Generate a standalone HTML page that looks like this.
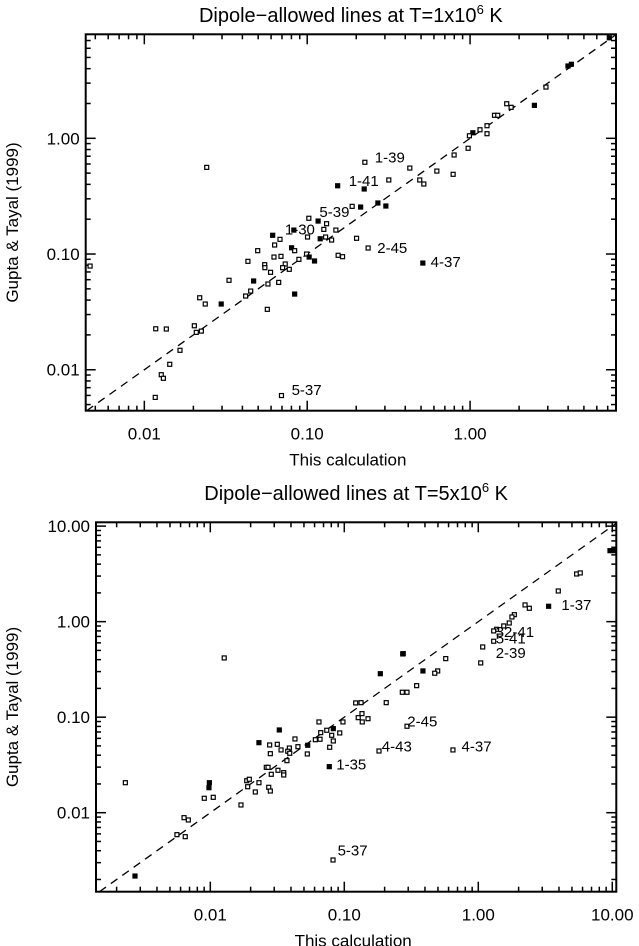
<!DOCTYPE html>
<html><head><meta charset="utf-8">
<style>
html,body{margin:0;padding:0;background:#fff;}
svg{display:block;font-family:"Liberation Sans",sans-serif;}
</style></head>
<body>
<svg id="fig" width="639" height="946" viewBox="0 0 639 946"></svg>
<script>
// ---- Panel 1 data (T=1e6 K), log10 values ----
const calcLog1 = [-1.617,-0.646,-0.813,-0.650,-0.724,-0.672,-0.990,-0.933,-0.881,-1.082,-0.824,-0.898,-0.998,-0.920,-0.887,-0.850,-0.697,-0.626,-1.212,-1.167,-1.200,-1.304,-1.096,-1.077,-1.204,-1.161,-1.004,-0.988,-1.051,-0.955,-0.810,-0.783,-1.364,-1.261,-1.260,-1.135,-1.151,-1.110,-1.225,-1.480,-1.329,-1.175,-1.241,-1.347,-1.378,-1.077,-1.660,-1.626,-1.528,-1.245,-1.693,-1.681,-1.650,-1.930,-1.865,-1.933,-1.896,-1.883,-1.844,-1.781,0.855,0.622,0.601,0.466,0.395,0.225,0.252,0.150,0.170,0.104,0.061,0.017,-0.004,0.104,-0.012,-0.098,-0.104,-1.158,-2.333,-0.290,-0.370,-0.499,-0.517,-0.566,-0.284,-0.309,-0.204];
const guptaLog1 = [-0.251,-0.207,-0.410,-0.438,-0.588,-0.594,-0.691,-0.715,-0.738,-0.793,-0.793,-0.787,-0.853,-0.868,-0.853,-0.879,-0.864,-0.948,-0.838,-0.873,-0.922,-0.971,-0.946,-0.971,-1.026,-1.020,-1.000,-1.026,-1.046,-1.060,-1.011,-1.023,-1.063,-1.092,-1.118,-1.086,-1.118,-1.132,-1.158,-1.227,-1.233,-1.245,-1.259,-1.320,-1.363,-1.346,-1.378,-1.432,-1.432,-1.478,-1.620,-1.677,-1.666,-1.646,-1.648,-2.239,-2.043,-2.074,-1.953,-1.832,0.869,0.640,0.625,0.443,0.285,0.299,0.268,0.199,0.199,0.109,0.074,0.048,0.022,0.040,-0.086,-0.144,-0.311,-2.223,-1.104,-1.078,-0.257,-0.360,-0.585,-0.559,-0.395,-0.360,-0.283];
const filled1 = [2,3,5,7,9,13,18,22,27,29,40,45,48,60,61,62,64,71,79,82,83];
const labels1 = ["1-39","1-41","5-39","1-30","2-45","4-37","5-37"];
const labelCalc1 = [-0.585,-0.745,-0.925,-1.137,-0.570,-0.242,-1.096];
const labelGupta1 = [-0.210,-0.410,-0.680,-0.830,-0.990,-1.110,-2.220];

// ---- Panel 2 data (T=5e6 K), log10 values ----
const calcLog2 = [-0.564,-0.731,-0.567,-0.532,-0.687,-0.915,-0.875,-0.868,-0.896,-0.823,-0.866,-1.010,-1.189,-1.082,-1.131,-1.176,-1.034,-1.094,-1.485,-1.181,-1.216,-1.082,-1.368,-1.637,-1.557,-1.500,-1.273,-1.346,-1.410,-1.109,-1.472,-1.422,-1.407,-1.552,-1.276,-1.428,-1.112,-0.741,-0.532,-1.582,-1.569,-1.495,-1.545,-1.452,-1.452,-1.728,-1.709,-1.637,-1.721,-1.564,-1.552,-1.664,-2.007,-2.010,-2.045,-1.978,-1.771,-2.634,-2.196,-2.164,-2.249,-2.187,-2.562,1.007,0.983,0.734,0.761,0.597,0.525,0.349,0.381,0.269,0.251,0.231,0.190,0.137,0.115,0.115,0.033,0.018,-0.560,-0.243,-0.303,-0.325,-0.413,-0.460,-0.189,-1.084,-1.896];
const guptaLog2 = [-0.338,-0.545,-0.739,-0.739,-0.848,-0.851,-0.848,-0.963,-1.005,-1.016,-1.050,-1.050,-1.050,-1.120,-1.137,-1.162,-1.165,-1.190,-1.134,-1.231,-1.236,-1.249,-1.228,-1.267,-1.291,-1.284,-1.294,-1.309,-1.323,-1.315,-1.343,-1.357,-1.378,-1.382,-1.385,-1.455,-1.518,-1.354,-1.095,-1.525,-1.525,-1.556,-1.598,-1.581,-1.605,-1.665,-1.650,-1.686,-1.728,-1.734,-1.773,-1.783,-1.686,-1.738,-1.849,-1.839,-1.919,-1.686,-2.052,-2.076,-2.230,-2.251,-2.663,0.743,0.743,0.499,0.510,0.321,0.161,0.175,0.140,0.073,0.049,-0.014,-0.045,-0.080,-0.097,-0.205,-0.265,-0.432,-0.335,-0.387,-0.516,-0.540,-0.516,-0.670,-1.343,-2.495,-0.380];
const filled2 = [0,1,13,18,23,26,36,52,53,62,63,64,68,80,84];
const labels2 = ["1-37","32-41","5-41","2-39","2-45","4-43","4-37","1-35","5-37"];
const labelCalc2 = [0.620,0.130,0.130,0.130,-0.530,-0.720,-0.125,-1.060,-1.050];
const labelGupta2 = [0.120,-0.160,-0.230,-0.380,-1.100,-1.360,-1.360,-1.550,-2.450];

const NS = "http://www.w3.org/2000/svg";
const svg = document.getElementById('fig');
function mk(tag, attrs, parent){
  const e = document.createElementNS(NS, tag);
  for (const k in attrs) e.setAttribute(k, attrs[k]);
  (parent||svg).appendChild(e);
  return e;
}

function panel(cfg){
  const g = mk('g', {});
  
  
  const X = v => cfg.x0 + (v - cfg.lx0) / (cfg.lx1 - cfg.lx0) * (cfg.x1 - cfg.x0);
  const Y = v => cfg.y1 - (v - cfg.ly0) / (cfg.ly1 - cfg.ly0) * (cfg.y1 - cfg.y0);

  const t = mk('text', {x:(cfg.x0+cfg.x1)/2, y:cfg.titleY, 'text-anchor':'middle', 'font-size':20, fill:'#000'}, g);
  
  
  t.appendChild(document.createTextNode(cfg.title[0]));
  const sup = mk('tspan', {dy:-8, 'font-size':13}, t);
  sup.textContent = '6';
  const rest = mk('tspan', {dy:8}, t);
  rest.textContent = ' K';

  const lo = Math.max(cfg.lx0, cfg.ly0), hi = Math.min(cfg.lx1, cfg.ly1);
  const dl = mk('line', {x1:X(lo), y1:Y(lo), x2:X(hi), y2:Y(hi), stroke:'#000', 'stroke-width':1.3, 'stroke-dasharray':'8,6'}, g);
  
  

  const fr = mk('rect', {x:cfg.x0, y:cfg.y0, width:cfg.x1-cfg.x0, height:cfg.y1-cfg.y0, fill:'none', stroke:'#000', 'stroke-width':2}, g);
  
  

  for (let d = Math.floor(cfg.lx0)-1; d <= Math.ceil(cfg.lx1); d++){
    for (let m = 1; m <= 9; m++){
      const v = d + Math.log10(m);
      if (v < cfg.lx0 || v > cfg.lx1) continue;
      const len = m === 1 ? 10 : 5;
      const px = X(v);
      mk('line', {x1:px, y1:cfg.y1, x2:px, y2:cfg.y1-len, stroke:'#000', 'stroke-width':1.5}, g);
      mk('line', {x1:px, y1:cfg.y0, x2:px, y2:cfg.y0+len, stroke:'#000', 'stroke-width':1.5}, g);
    }
  }
  for (let d = Math.floor(cfg.ly0)-1; d <= Math.ceil(cfg.ly1); d++){
    for (let m = 1; m <= 9; m++){
      const v = d + Math.log10(m);
      if (v < cfg.ly0 || v > cfg.ly1) continue;
      const len = m === 1 ? 10 : 5;
      const py = Y(v);
      mk('line', {x1:cfg.x0, y1:py, x2:cfg.x0+len, y2:py, stroke:'#000', 'stroke-width':1.5}, g);
      mk('line', {x1:cfg.x1, y1:py, x2:cfg.x1-len, y2:py, stroke:'#000', 'stroke-width':1.5}, g);
    }
  }
  cfg.xTicks.forEach((lab, i) => {
    const e = mk('text', {x:X(cfg.xTickVals[i]), y:cfg.y1+29, 'text-anchor':'middle', 'font-size':17}, g);
    
    
    e.textContent = lab;
  });
  cfg.yTicks.forEach((lab, i) => {
    const e = mk('text', {x:cfg.x0-6, y:Y(cfg.yTickVals[i])+6, 'text-anchor':'end', 'font-size':17}, g);
    
    
    e.textContent = lab;
  });
  const xt = mk('text', {x:(cfg.x0+cfg.x1)/2 - 3, y:cfg.y1+55, 'text-anchor':'middle', 'font-size':17}, g);
  
  
  xt.textContent = 'This calculation';
  const yc = (cfg.y0+cfg.y1)/2;
  const yt = mk('text', {x:0, y:0, 'text-anchor':'middle', 'font-size':17, transform:'translate(18,'+yc+') rotate(-90)'}, g);
  
  
  yt.textContent = 'Gupta & Tayal (1999)';

  cfg.xs.forEach((xv, i) => {
    const yv = cfg.ys[i];
    if (xv < cfg.lx0 || xv > cfg.lx1 || yv < cfg.ly0 || yv > cfg.ly1) return;
    const f = cfg.filled.indexOf(i) >= 0;
    const p = mk('rect', {x:X(xv)-2, y:Y(yv)-2, width:4, height:4, fill:f?'#000':'#fff', stroke:'#000', 'stroke-width':1.2}, g);
    
    
  });
  cfg.labels.forEach((lab, i) => {
    const e = mk('text', {x:X(cfg.lcx[i]), y:Y(cfg.lcy[i]), 'font-size':15}, g);
    
    
    e.textContent = lab;
  });
}

panel({name:'panel-1e6', title:['Dipole\u2212allowed lines at T=1x10'], titleY:22,
  x0:85.7, x1:616, y0:34.3, y1:410.7, lx0:-2.36, lx1:0.896, ly0:-2.354, ly1:0.899,
  xTicks:['0.01','0.10','1.00'], xTickVals:[-2,-1,0],
  yTicks:['0.01','0.10','1.00'], yTickVals:[-2,-1,0],
  xs:calcLog1, ys:guptaLog1, filled:filled1, labels:labels1, lcx:labelCalc1, lcy:labelGupta1});

panel({name:'panel-5e6', title:['Dipole\u2212allowed lines at T=5x10'], titleY:500,
  x0:96, x1:616.3, y0:522.3, y1:891.7, lx0:-2.853, lx1:1.03, ly0:-2.827, ly1:1.04,
  xTicks:['0.01','0.10','1.00','10.00'], xTickVals:[-2,-1,0,1],
  yTicks:['0.01','0.10','1.00','10.00'], yTickVals:[-2,-1,0,1],
  xs:calcLog2, ys:guptaLog2, filled:filled2, labels:labels2, lcx:labelCalc2, lcy:labelGupta2});
</script>
</body></html>
